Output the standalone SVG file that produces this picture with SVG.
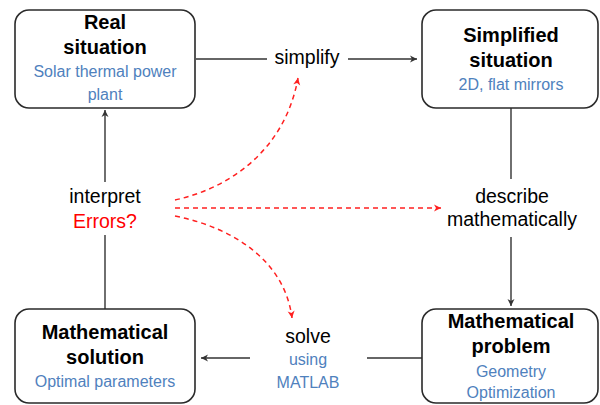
<svg xmlns="http://www.w3.org/2000/svg" width="600" height="405" viewBox="0 0 600 405">
<style>
.box{fill:#fff;stroke:#2a2a2a;stroke-width:1.6}
.t{font-family:"Liberation Sans",Arial,sans-serif;text-anchor:middle}
.b{font-weight:bold;font-size:20px;fill:#000}
.s{font-size:16px;fill:#4f81bd}
.l{font-size:19.5px;fill:#000}
.e{font-size:19.5px;fill:#ff0000}
.c{fill:none;stroke:#333;stroke-width:1.4}
.r{fill:none;stroke:#ff2020;stroke-width:1.5;stroke-dasharray:5,4}
</style>
<defs>
<marker id="ah" markerWidth="10" markerHeight="10" refX="8" refY="5" orient="auto" markerUnits="userSpaceOnUse">
<path d="M1,1.5 L8,5 L1,8.5 L3,5 Z" fill="#333"/>
</marker>
<marker id="ar" markerWidth="10" markerHeight="10" refX="8" refY="5" orient="auto" markerUnits="userSpaceOnUse">
<path d="M1,1.5 L8,5 L1,8.5 L3,5 Z" fill="#ff2020"/>
</marker>
</defs>
<g id="connectors">
<path class="c" d="M196,59 H267"/>
<path class="c" d="M348,59 H417" marker-end="url(#ah)"/>
<path class="c" d="M511,108 V179"/>
<path class="c" d="M511,237 V306" marker-end="url(#ah)"/>
<path class="c" d="M422,358 H367"/>
<path class="c" d="M250,358 H201" marker-end="url(#ah)"/>
<path class="c" d="M105,309 V235"/>
<path class="c" d="M105,182 V110" marker-end="url(#ah)"/>
<path class="r" d="M175,200 C230,188 285,150 298,78" marker-end="url(#ar)"/>
<path class="r" d="M175,208 H441" marker-end="url(#ar)"/>
<path class="r" d="M175,216 C235,228 285,262 292,318" marker-end="url(#ar)"/>
</g>
<g id="real">
<rect class="box" x="15" y="10" width="180" height="98" rx="14"/>
<text class="t b" x="105" y="29">Real</text>
<text class="t b" x="105" y="54">situation</text>
<text class="t s" x="105" y="77">Solar thermal power</text>
<text class="t s" x="105" y="100">plant</text>
</g>
<g id="simplified">
<rect class="box" x="422" y="10" width="176" height="98" rx="14"/>
<text class="t b" x="511" y="42">Simplified</text>
<text class="t b" x="511" y="67">situation</text>
<text class="t s" x="511" y="90">2D, flat mirrors</text>
</g>
<g id="problem">
<rect class="box" x="422" y="309" width="176" height="94" rx="14"/>
<text class="t b" x="511" y="328">Mathematical</text>
<text class="t b" x="511" y="353">problem</text>
<text class="t s" x="511" y="377">Geometry</text>
<text class="t s" x="511" y="398">Optimization</text>
</g>
<g id="solution">
<rect class="box" x="15" y="309" width="180" height="94" rx="14"/>
<text class="t b" x="105" y="339">Mathematical</text>
<text class="t b" x="105" y="364">solution</text>
<text class="t s" x="105" y="387">Optimal parameters</text>
</g>
<g id="simplify">
<text class="t l" x="307" y="64">simplify</text>
</g>
<g id="describe">
<text class="t l" x="512" y="203">describe</text>
<text class="t l" x="512" y="226">mathematically</text>
</g>
<g id="solve">
<text class="t l" x="308" y="343">solve</text>
<text class="t s" x="308" y="365">using</text>
<text class="t s" x="308" y="388">MATLAB</text>
</g>
<g id="interpret">
<text class="t l" x="105" y="203">interpret</text>
<text class="t e" x="105" y="228">Errors?</text>
</g>
</svg>
